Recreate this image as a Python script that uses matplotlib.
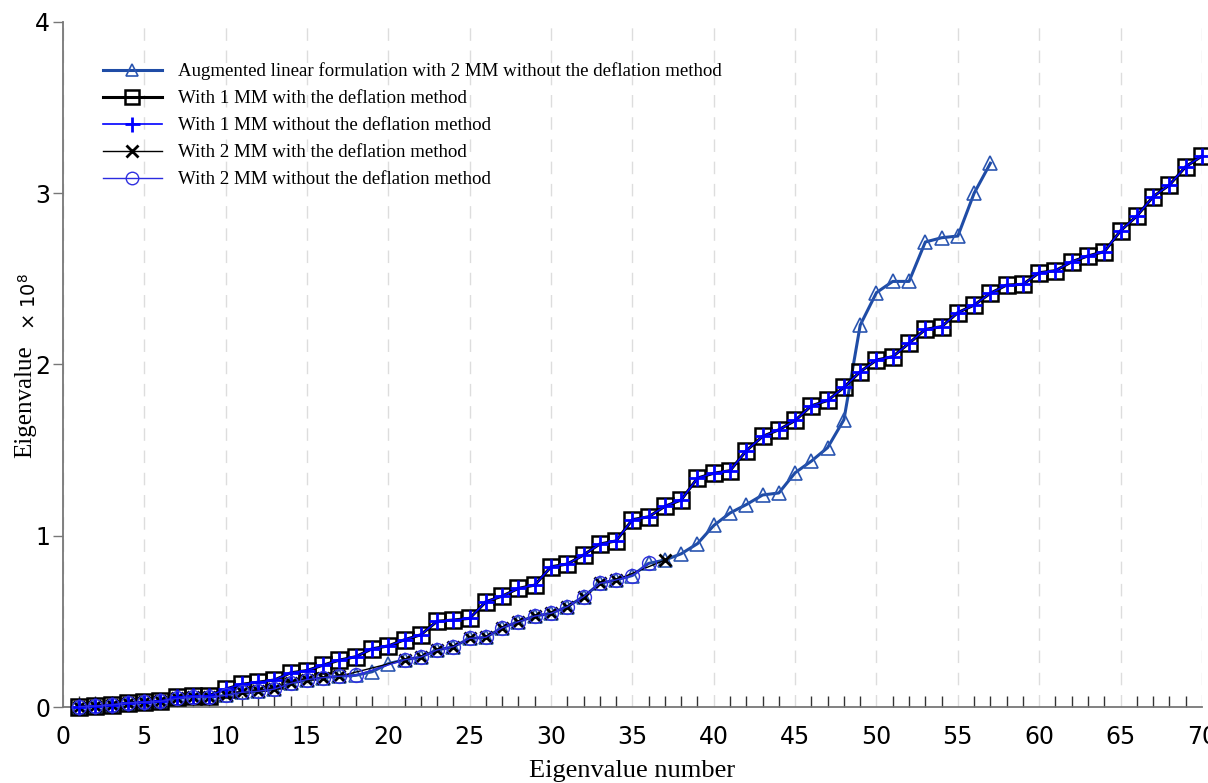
import matplotlib.pyplot as plt
from matplotlib.ticker import MultipleLocator
import numpy as np

# Eigenvalues (x 1e8) of the first 70 modes, one-mode model
n_one = list(range(1, 71))
eig_one = [0.002, 0.006, 0.013, 0.025, 0.029, 0.035, 0.057, 0.064, 0.066, 0.105,
           0.133, 0.145, 0.158, 0.200, 0.213, 0.245, 0.274, 0.294, 0.340, 0.357,
           0.393, 0.422, 0.501, 0.508, 0.518, 0.615, 0.648, 0.693, 0.712, 0.819,
           0.835, 0.888, 0.952, 0.970, 1.094, 1.111, 1.172, 1.209, 1.337, 1.365,
           1.380, 1.497, 1.580, 1.619, 1.673, 1.759, 1.790, 1.867, 1.958, 2.026,
           2.046, 2.124, 2.205, 2.221, 2.303, 2.347, 2.416, 2.464, 2.468, 2.536,
           2.548, 2.600, 2.634, 2.659, 2.781, 2.867, 2.980, 3.048, 3.155, 3.217]

# Augmented linear formulation, two-mode model
n_aug = list(range(1, 58))
eig_aug = [0.002, 0.006, 0.012, 0.024, 0.028, 0.033, 0.050, 0.060, 0.057, 0.068,
           0.086, 0.092, 0.105, 0.138, 0.160, 0.172, 0.180, 0.185, 0.206, 0.253,
           0.276, 0.292, 0.333, 0.352, 0.401, 0.407, 0.463, 0.498, 0.531, 0.547,
           0.586, 0.644, 0.722, 0.742, 0.768, 0.839, 0.858, 0.895, 0.954, 1.060,
           1.133, 1.182, 1.238, 1.250, 1.368, 1.436, 1.515, 1.678, 2.230, 2.420,
           2.485, 2.485, 2.715, 2.740, 2.750, 3.000, 3.175]

# Two-mode model, with deflation
n_two_defl = list(range(1, 18)) + list(range(21, 35)) + [37]
eig_two_defl = [0.002, 0.006, 0.012, 0.024, 0.028, 0.033, 0.050, 0.060, 0.057, 0.068,
                0.086, 0.092, 0.105, 0.138, 0.160, 0.172, 0.180,
                0.276, 0.292, 0.333, 0.352, 0.401, 0.407, 0.463, 0.498, 0.531, 0.547,
                0.586, 0.644, 0.722, 0.742,
                0.858]

# Two-mode model, without deflation
n_two = list(range(1, 19)) + list(range(21, 37))
eig_two = [0.002, 0.006, 0.012, 0.024, 0.028, 0.033, 0.050, 0.060, 0.057, 0.068,
           0.086, 0.092, 0.105, 0.138, 0.160, 0.172, 0.180, 0.185,
           0.276, 0.292, 0.333, 0.352, 0.401, 0.407, 0.463, 0.498, 0.531, 0.547,
           0.586, 0.644, 0.722, 0.742, 0.768, 0.839]

labels = [
    "Augmented linear formulation with 2 MM without the deflation method",
    "With 1 MM with the deflation method",
    "With 1 MM without the deflation method",
    "With 2 MM with the deflation method",
    "With 2 MM without the deflation method",
]

fig = plt.figure(figsize=(12.08, 7.83), dpi=100)
ax = fig.add_axes([0.052, 0.097, 0.943, 0.875])

ax.plot(n_aug, eig_aug, color="#1f4ca6", lw=2.2, marker="^", ms=10,
        mfc="none", mec="#2a55b0", mew=1.2, label=labels[0], clip_on=False, zorder=3)
ax.plot(n_one, eig_one, color="black", lw=2.2, marker="s", ms=11,
        mfc="none", mec="black", mew=1.8, label=labels[1], clip_on=False, zorder=4)
ax.plot(n_one, eig_one, color="#0000ff", lw=1.2, marker="+", ms=12,
        mew=2.0, label=labels[2], clip_on=False, zorder=5)
ax.plot(n_two_defl, eig_two_defl, color="black", lw=1.0, marker="x", ms=9,
        mew=2.0, label=labels[3], clip_on=False, zorder=4)
ax.plot(n_two, eig_two, color="#2b2be0", lw=1.0, marker="o", ms=10,
        mfc="none", mec="#3030e0", mew=1.0, label=labels[4], clip_on=False, zorder=5)

ax.set_xlim(0, 70)
ax.set_ylim(0, 4)

for side in ("top", "right"):
    ax.spines[side].set_visible(False)
for side in ("left", "bottom"):
    ax.spines[side].set_color("#777777")
    ax.spines[side].set_linewidth(1.3)

ax.xaxis.set_major_locator(MultipleLocator(5))
ax.xaxis.set_minor_locator(MultipleLocator(1))
ax.yaxis.set_major_locator(MultipleLocator(1))
ax.tick_params(axis="x", which="major", length=0, labelsize=17, pad=13)
ax.tick_params(axis="x", which="minor", direction="in", length=8, width=1, color="#333333")
ax.tick_params(axis="y", which="major", direction="out", length=7, width=1,
               color="#777777", labelsize=17, pad=2)

ax.grid(axis="x", which="major", color="#dddddd", lw=1, linestyle=(0, (9, 7)))
ax.set_axisbelow(True)

ax.set_xlabel("Eigenvalue number", family="Liberation Serif", fontsize=19, labelpad=8)
fig.text(0.021, 0.487, "Eigenvalue", family="Liberation Serif", fontsize=18,
         rotation=90, ha="center", va="center")
fig.text(0.024, 0.615, "× 10$^8$", fontsize=14, rotation=90, ha="center", va="center")

ax.legend(loc="upper left", bbox_to_anchor=(0.035, 0.941), frameon=False,
          prop={"family": "Liberation Serif", "size": 13.6}, handlelength=3.15,
          handletextpad=0.85, labelspacing=0.52, borderpad=0, borderaxespad=0,
          markerscale=0.9)

fig.savefig("out.png", dpi=100)
